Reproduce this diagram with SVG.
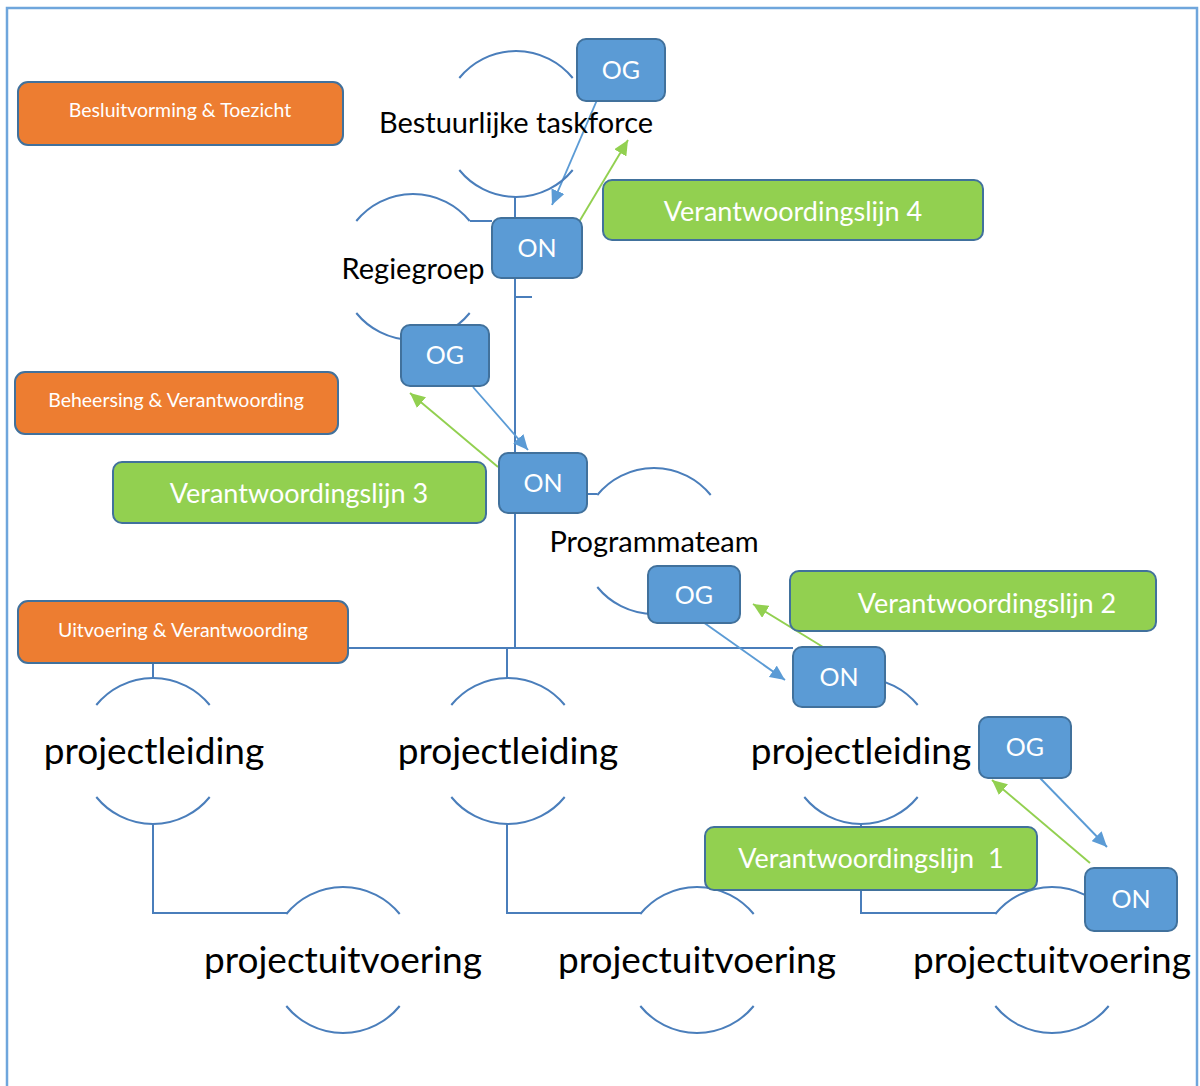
<svg xmlns="http://www.w3.org/2000/svg" width="1200" height="1086" viewBox="0 0 1200 1086">
<style>
text{font-family:Lato,"Open Sans","Liberation Sans",sans-serif}
.frame{fill:none;stroke:#6fa6dc;stroke-width:2.5}
.arc{fill:none;stroke:#4a7ebb;stroke-width:2}
.conn{fill:none;stroke:#4a7ebb;stroke-width:2}
.ab{fill:none;stroke:#5b9bd5;stroke-width:1.9}
.ag{fill:none;stroke:#92d050;stroke-width:1.9}
.orange{fill:#ed7d31;stroke:#41719c;stroke-width:2}
.green{fill:#92d050;stroke:#41719c;stroke-width:2}
.blue{fill:#5b9bd5;stroke:#41719c;stroke-width:2}
.wt{fill:#fff;text-anchor:middle}
.ot{font-size:19.5px}
.gt{font-size:27px}
.bt{font-size:25px}
.ct{fill:#000;text-anchor:middle;font-size:29px}
.pt{fill:#000;text-anchor:middle;font-size:37px}
</style>
<defs>
<marker id="mb" markerUnits="userSpaceOnUse" markerWidth="16" markerHeight="14" refX="15" refY="7" orient="auto"><path d="M0,0 L15,7 L0,14 Z" fill="#5b9bd5"/></marker>
<marker id="mg" markerUnits="userSpaceOnUse" markerWidth="16" markerHeight="14" refX="15" refY="7" orient="auto"><path d="M0,0 L15,7 L0,14 Z" fill="#92d050"/></marker>
</defs>
<rect class="frame" x="7" y="8" width="1190" height="1100"/>

<g id="connectors">
<path class="conn" d="M515,197 V218 M515,278 V453 M515,297 H532 M515,513 V648 M348,648 H793"/>
<path class="conn" d="M470,221 H492 M587,494 H597"/>
<path class="conn" d="M153,663 V678 M507,648 V678"/>
<path class="conn" d="M153,824 V913 H287 M507,824 V913 H641 M861,824 V913 H996"/>
<path class="ab" marker-end="url(#mb)" d="M597,100 L552,205"/>
<path class="ab" marker-end="url(#mb)" d="M473,387 L528,450"/>
<path class="ab" marker-end="url(#mb)" d="M703,622 L785,680"/>
<path class="ab" marker-end="url(#mb)" d="M1040,778 L1107,847"/>
<path class="ag" marker-end="url(#mg)" d="M573,232 L628,140"/>
<path class="ag" marker-end="url(#mg)" d="M498,467 L410,393"/>
<path class="ag" marker-end="url(#mg)" d="M823,647 L753,604"/>
<path class="ag" marker-end="url(#mg)" d="M1090,863 L992,780"/>
</g>

<g id="bestuurlijke-taskforce">
<path class="arc" d="M459.3,78 A73,73 0 0 1 572.7,78 M459.3,170 A73,73 0 0 0 572.7,170"/>
<text class="ct" x="516" y="133">Bestuurlijke taskforce</text>
</g>
<g id="regiegroep">
<path class="arc" d="M356.3,221 A73,73 0 0 1 469.7,221 M356.3,313 A73,73 0 0 0 469.7,313"/>
<text class="ct" x="413" y="279">Regiegroep</text>
</g>
<g id="programmateam">
<path class="arc" d="M597.3,495 A73,73 0 0 1 710.7,495 M597.3,587 A73,73 0 0 0 710.7,587"/>
<text class="ct" x="654" y="552">Programmateam</text>
</g>
<g id="projectleiding-1">
<path class="arc" d="M96.3,705 A73,73 0 0 1 209.7,705 M96.3,797 A73,73 0 0 0 209.7,797"/>
<text class="pt" x="154" y="764">projectleiding</text>
</g>
<g id="projectleiding-2">
<path class="arc" d="M451.3,705 A73,73 0 0 1 564.7,705 M451.3,797 A73,73 0 0 0 564.7,797"/>
<text class="pt" x="508" y="764">projectleiding</text>
</g>
<g id="projectleiding-3">
<path class="arc" d="M804.3,705 A73,73 0 0 1 917.7,705 M804.3,797 A73,73 0 0 0 917.7,797"/>
<text class="pt" x="861" y="764">projectleiding</text>
</g>
<g id="projectuitvoering-1">
<path class="arc" d="M286.3,914 A73,73 0 0 1 399.7,914 M286.3,1006 A73,73 0 0 0 399.7,1006"/>
<text class="pt" x="343" y="973">projectuitvoering</text>
</g>
<g id="projectuitvoering-2">
<path class="arc" d="M640.3,914 A73,73 0 0 1 753.7,914 M640.3,1006 A73,73 0 0 0 753.7,1006"/>
<text class="pt" x="697" y="973">projectuitvoering</text>
</g>
<g id="projectuitvoering-3">
<path class="arc" d="M995.3,914 A73,73 0 0 1 1108.7,914 M995.3,1006 A73,73 0 0 0 1108.7,1006"/>
<text class="pt" x="1052" y="973">projectuitvoering</text>
</g>

<g id="besluitvorming">
<rect class="orange" x="18" y="82" width="325" height="63" rx="10"/>
<text class="wt ot" x="180" y="117">Besluitvorming &amp; Toezicht</text>
</g>
<g id="beheersing">
<rect class="orange" x="15" y="372" width="323" height="62" rx="10"/>
<text class="wt ot" x="176" y="407">Beheersing &amp; Verantwoording</text>
</g>
<g id="uitvoering">
<rect class="orange" x="18" y="601" width="330" height="62" rx="10"/>
<text class="wt ot" x="183" y="637">Uitvoering &amp; Verantwoording</text>
</g>

<g id="vl4">
<rect class="green" x="603" y="180" width="380" height="60" rx="9"/>
<text class="wt gt" x="793" y="221">Verantwoordingslijn 4</text>
</g>
<g id="vl3">
<rect class="green" x="113" y="462" width="373" height="61" rx="9"/>
<text class="wt gt" x="299" y="503">Verantwoordingslijn 3</text>
</g>
<g id="vl2">
<rect class="green" x="790" y="571" width="366" height="60" rx="9"/>
<text class="wt gt" x="987" y="613">Verantwoordingslijn 2</text>
</g>
<g id="vl1">
<rect class="green" x="705" y="827" width="332" height="63" rx="9"/>
<text class="wt gt" x="871" y="868" xml:space="preserve">Verantwoordingslijn  1</text>
</g>

<g id="og-1"><rect class="blue" x="577" y="39" width="88" height="62" rx="9"/><text class="wt bt" x="621" y="79">OG</text></g>
<g id="on-1"><rect class="blue" x="492" y="218" width="90" height="60" rx="9"/><text class="wt bt" x="537" y="257">ON</text></g>
<g id="og-2"><rect class="blue" x="401" y="325" width="88" height="61" rx="9"/><text class="wt bt" x="445" y="364">OG</text></g>
<g id="on-2"><rect class="blue" x="499" y="453" width="88" height="60" rx="9"/><text class="wt bt" x="543" y="492">ON</text></g>
<g id="og-3"><rect class="blue" x="648" y="566" width="92" height="57" rx="9"/><text class="wt bt" x="694" y="604">OG</text></g>
<g id="on-3"><rect class="blue" x="793" y="647" width="92" height="60" rx="9"/><text class="wt bt" x="839" y="686">ON</text></g>
<g id="og-4"><rect class="blue" x="979" y="717" width="92" height="61" rx="9"/><text class="wt bt" x="1025" y="756">OG</text></g>
<g id="on-4"><rect class="blue" x="1085" y="868" width="92" height="63" rx="9"/><text class="wt bt" x="1131" y="908">ON</text></g>
</svg>
